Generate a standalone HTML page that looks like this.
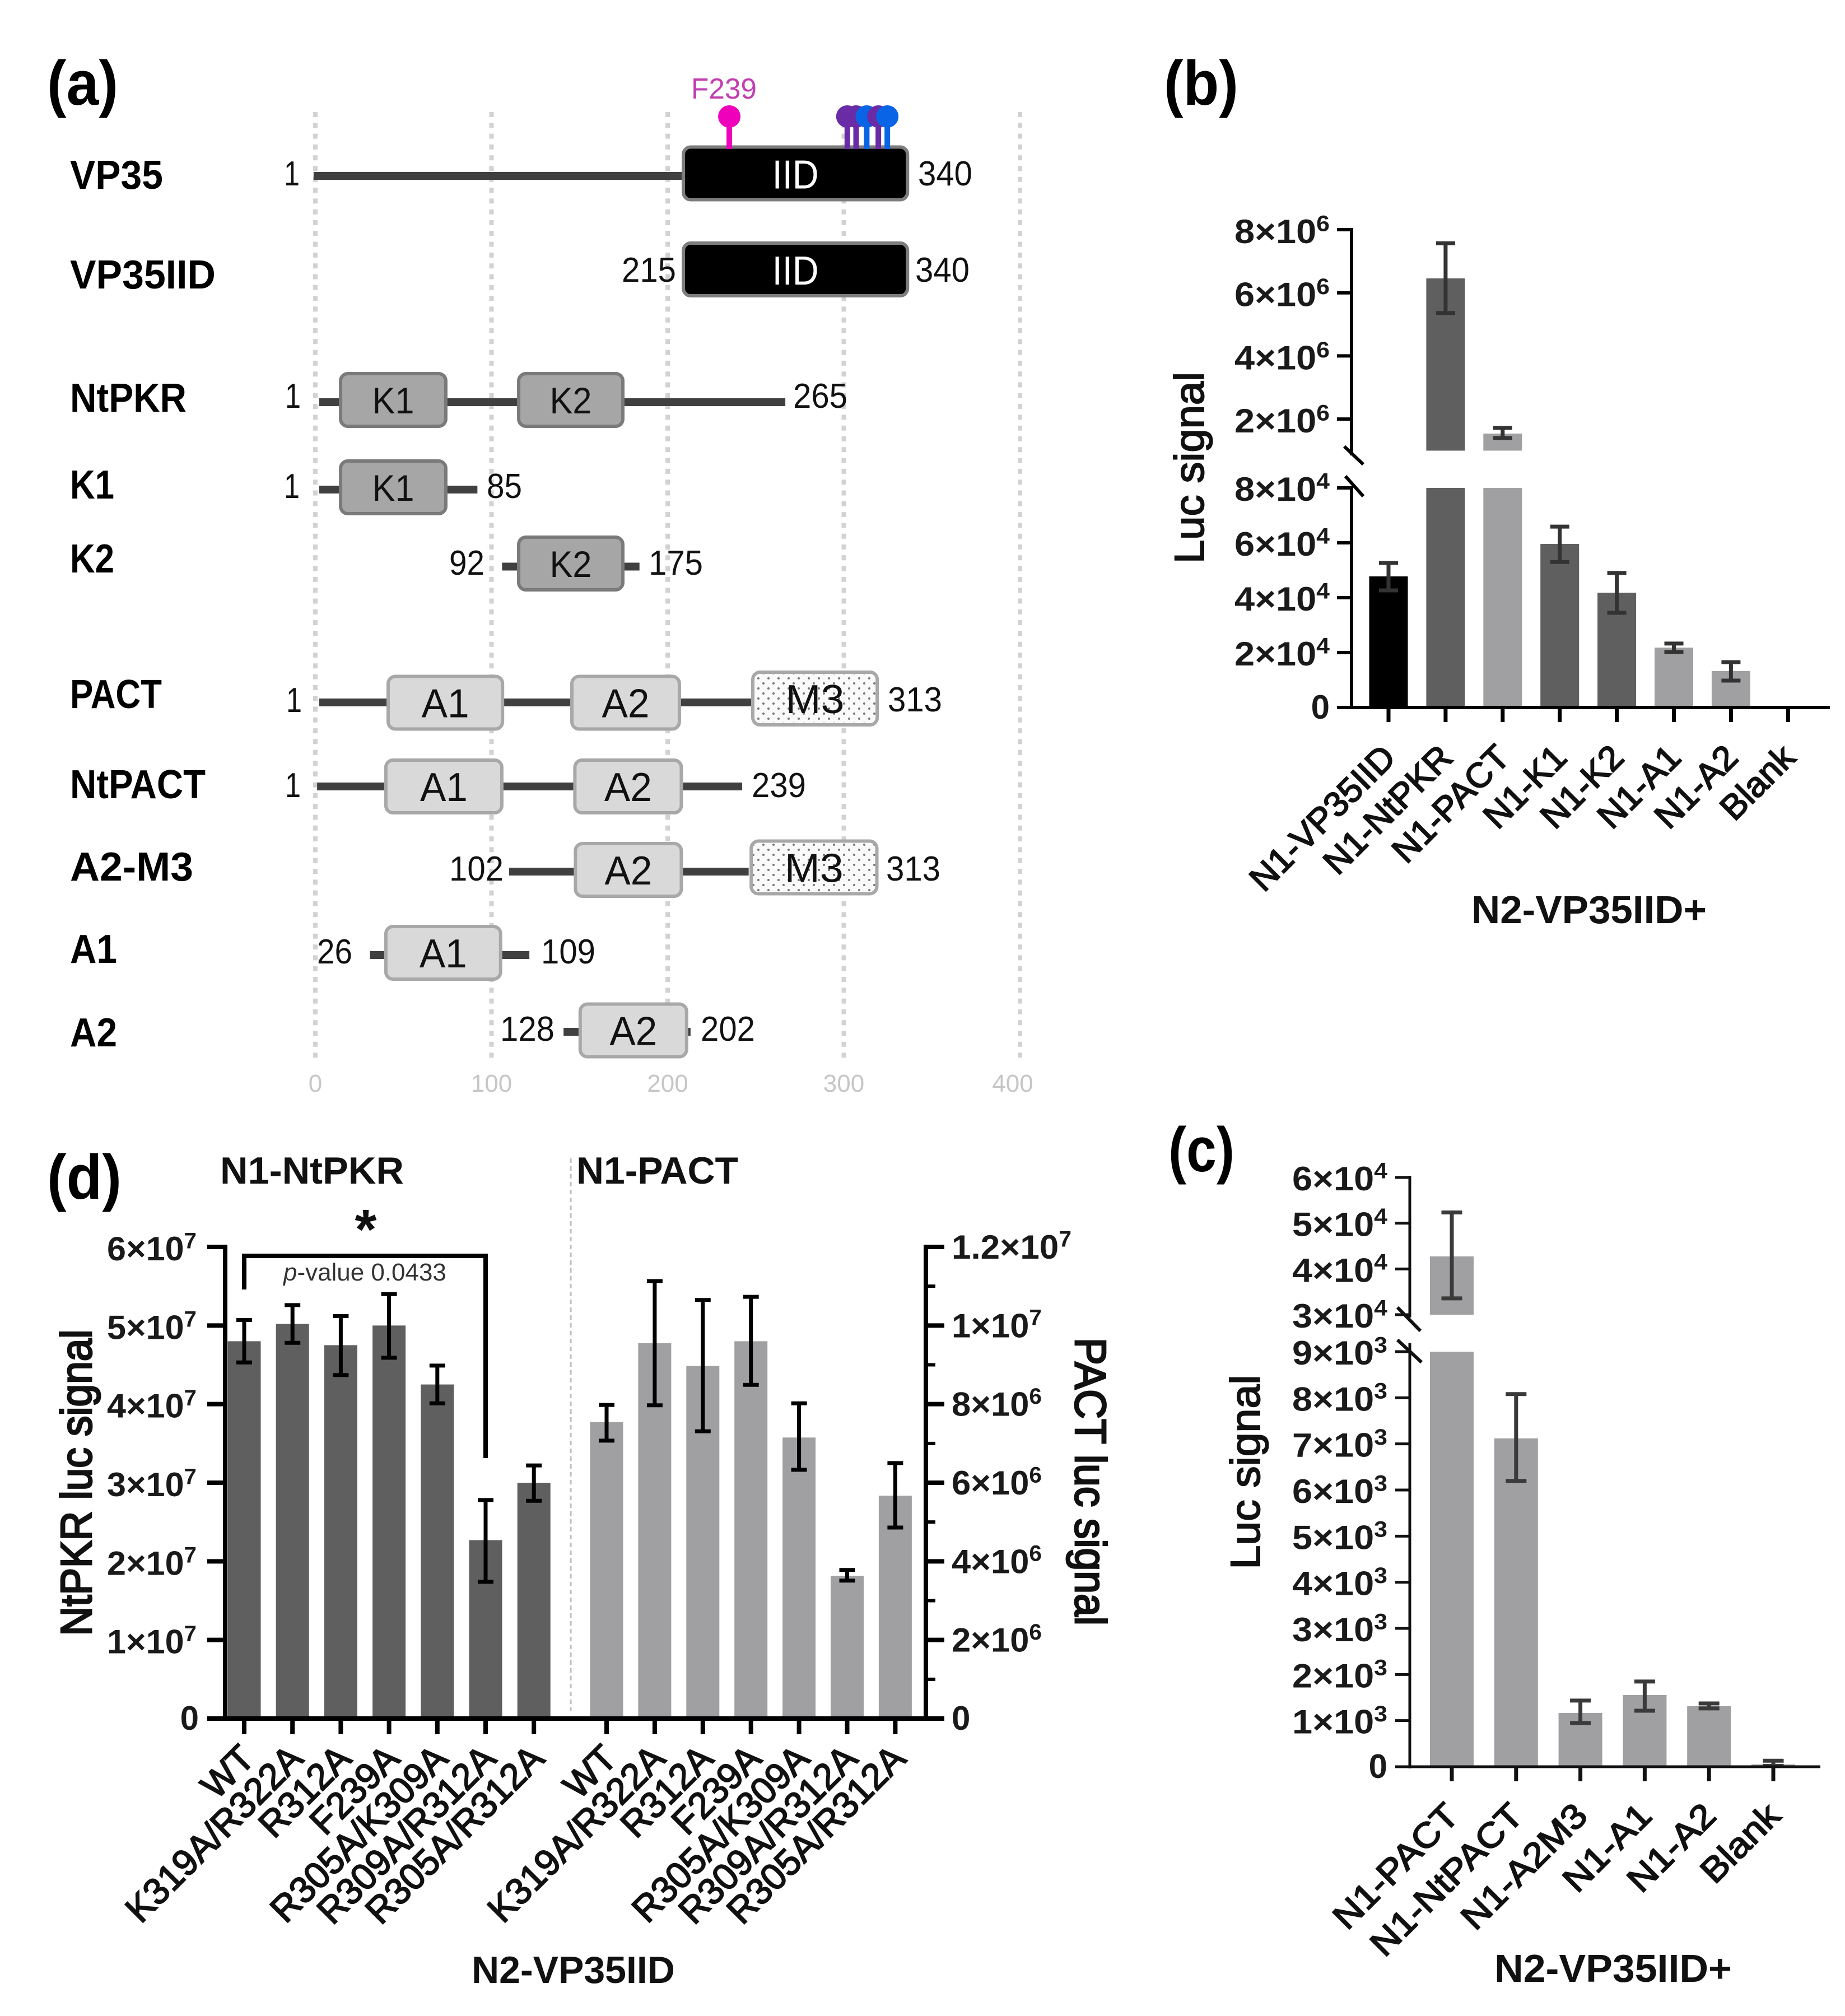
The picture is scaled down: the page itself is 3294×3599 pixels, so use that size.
<!DOCTYPE html>
<html lang="en">
<head>
<meta charset="utf-8">
<title>VP35 interaction figure</title>
<style>
html,body{margin:0;padding:0;background:#fff;}
svg{display:block;font-family:"Liberation Sans",Arial,sans-serif;}
</style>
</head>
<body>
<svg id="figure" xmlns="http://www.w3.org/2000/svg" width="3294" height="3599" viewBox="0 0 3294 3599">
<defs>
<pattern id="dots" width="18" height="18" patternUnits="userSpaceOnUse">
<rect width="18" height="18" fill="#fafafa"/>
<circle cx="4" cy="5" r="2" fill="#777"/>
<circle cx="13" cy="14" r="2" fill="#777"/>
</pattern>
</defs>
<rect width="3294" height="3599" fill="#fff"/>
</svg>
<script>
/* ---------- panel (a) data, residue units ---------- */
const residueTicks=[0,100,200,300,400];
const constructNames=['VP35','VP35IID','NtPKR','K1','K2','PACT','NtPACT','A2-M3','A1','A2'];
const constructLineStarts=[-1,null,2.2,2.2,106,2.2,1,110,31,140.9];
const constructLineEnds=[210,null,266.8,92,184,247.7,242.3,246,121.5,213];
const constructDomains=[
  [['IID',208.3,336.8]],
  [['IID',208.3,336.8]],
  [['K1',13.7,74.7],['K2',114.8,175.2]],
  [['K1',13.7,74.7]],
  [['K2',114.8,175.2]],
  [['A1',40.7,106.9],['A2',145,207.3],['M3',247.7,319.6]],
  [['A1',39.4,106.5],['A2',146.7,208.4]],
  [['A2',147,208.4],['M3',246.8,319.4]],
  [['A1',39.4,105.8]],
  [['A2',149.7,211.4]]
];
const pinResidues=[235,302,307,313,319.6,324.7];
const pinKinds=['magenta','purple','purple','blue','purple','blue'];

/* ---------- panel (b) data ---------- */
const bCategories=['N1-VP35IID','N1-NtPKR','N1-PACT','N1-K1','N1-K2','N1-A1','N1-A2','Blank'];
const bValues=[47755,6456000,1540000,59600,41800,21800,13300,0];
const bErrHigh=[52650,7570000,1720000,65900,49000,23300,16500,0];
const bErrLow=[42650,5360000,1400000,53000,34500,20200,9800,0];
const bLowerTicks=[0,20000,40000,60000,80000];
const bUpperTicks=[2000000,4000000,6000000,8000000];

/* ---------- panel (c) data ---------- */
const cCategories=['N1-PACT','N1-NtPACT','N1-A2M3','N1-A1','N1-A2','Blank'];
const cValues=[42740,7120,1167,1555,1312,50];
const cErrHigh=[52350,8080,1434,1847,1373,130];
const cErrLow=[33560,6197,948,1215,1264,20];
const cLowerTicks=[0,1000,2000,3000,4000,5000,6000,7000,8000,9000];
const cUpperTicks=[30000,40000,50000,60000];

/* ---------- panel (d) data ---------- */
const dCategories=['WT','K319A/R322A','R312A','F239A','R305A/K309A','R309A/R312A','R305A/R312A'];
const dPkrValues=[4.80e7,5.02e7,4.75e7,5.00e7,4.25e7,2.27e7,3.00e7];
const dPkrErrHigh=[5.07e7,5.26e7,5.12e7,5.40e7,4.49e7,2.78e7,3.22e7];
const dPkrErrLow=[4.53e7,4.78e7,4.37e7,4.59e7,4.01e7,1.74e7,2.77e7];
const dPactValues=[7.54e6,9.55e6,8.97e6,9.60e6,7.15e6,3.63e6,5.67e6];
const dPactErrHigh=[7.98e6,11.13e6,10.65e6,10.73e6,8.02e6,3.78e6,6.50e6];
const dPactErrLow=[7.07e6,7.97e6,7.31e6,8.49e6,6.33e6,3.51e6,4.86e6];
const dLeftTicks=[0,1e7,2e7,3e7,4e7,5e7,6e7];
const dRightTicks=[0,2e6,4e6,6e6,8e6,1e7,1.2e7];
const dRightMinorTicks=[1e6,3e6,5e6,7e6,9e6,1.1e7];

/* ---------- helpers ---------- */
const NS='http://www.w3.org/2000/svg';
const svg=document.getElementById('figure');
function make(tag,attrs,parent){
  const el=document.createElementNS(NS,tag);
  for(const k in attrs){el.setAttribute(k,attrs[k]);}
  (parent||svg).appendChild(el);
  return el;
}
function named(el,name,interactable){
  
  
  return el;
}
function slug(s){return String(s).toLowerCase().replace(/[^a-z0-9]+/g,'-');}
function linear(d0,d1,r0,r1){return v=>r0+(v-d0)*(r1-r0)/(d1-d0);}
function fit(el,x,y,o){
  let k=o.k||1;
  if(o.len){const n=el.getComputedTextLength();if(n>0){k=o.len/n;}}
  let t='translate('+x+','+y+')';
  if(o.rotate){t+=' rotate('+o.rotate+')';}
  if(k!==1){t+=' scale('+k+',1)';}
  el.setAttribute('transform',t);
}
function text(str,x,y,o,name,parent){
  const el=make('text',{'font-size':o.size,'font-weight':o.weight||'normal',fill:o.fill||'#111','text-anchor':o.anchor||'start'},parent);
  if(o.bolden){el.setAttribute('stroke',o.fill||'#111');el.setAttribute('stroke-width',o.bolden);}
  el.textContent=str;
  named(el,name);
  fit(el,x,y,o);
  return el;
}
function sciParts(v){
  const s=v.toExponential().split('e');
  return [s[0],String(parseInt(s[1],10))];
}
function sciLabel(v,left,baseline,width,size,name,parent){
  if(v===0){return null;}
  const p=sciParts(v);
  const el=make('text',{'font-size':size,'font-weight':'bold',fill:'#1a1a1a'},parent);
  const a=make('tspan',{},el);
  a.textContent=p[0]+'×10';
  const b=make('tspan',{'font-size':size*0.66,dy:-size*0.36},el);
  b.textContent=p[1];
  named(el,name);
  fit(el,left,baseline,{len:width});
  return el;
}
function zeroLabel(x,baseline,size,name,parent){
  return text('0',x,baseline,{size:size,weight:'bold',fill:'#1a1a1a',anchor:'end'},name,parent);
}
function seg(parent,x1,y1,x2,y2,stroke,w,name){
  const el=make('line',{x1:x1,y1:y1,x2:x2,y2:y2,stroke:stroke,'stroke-width':w},parent);
  named(el,name);
  return el;
}
function bar(parent,cx,w,yTop,yBottom,fill,name){
  const el=make('rect',{x:cx-w/2,y:yTop,width:w,height:Math.max(0,yBottom-yTop),fill:fill},parent);
  named(el,name);
  return el;
}
function errBar(parent,cx,yHi,yLo,cap,stroke,w,name){
  const d='M'+(cx-cap/2)+' '+yHi+'H'+(cx+cap/2)+'M'+cx+' '+yHi+'V'+yLo+'M'+(cx-cap/2)+' '+yLo+'H'+(cx+cap/2);
  const el=make('path',{d:d,fill:'none',stroke:stroke,'stroke-width':w},parent);
  named(el,name);
  return el;
}
function group(name){
  const g=make('g',{});
  named(g,name);
  return g;
}

/* ---------- panel letters ---------- */
function panelLetters(){
  const g=group('panel-labels');
  text('(a)',84,187,{size:112,weight:'bold',fill:'#000',len:127},'panel-label-a',g);
  text('(b)',2078,187,{size:112,weight:'bold',fill:'#000',len:133},'panel-label-b',g);
  text('(c)',2086,2091,{size:112,weight:'bold',fill:'#000',len:118},'panel-label-c',g);
  text('(d)',84,2140,{size:112,weight:'bold',fill:'#000',len:133},'panel-label-d',g);
}

/* ---------- panel (a) ---------- */
function drawPanelA(){
  const g=group('panel-a-domain-map');
  const x=linear(0,100,563,877.5);
  residueTicks.forEach(t=>{
    const el=make('line',{x1:x(t),x2:x(t),y1:200,y2:1895,stroke:'#d2d2d2','stroke-width':8,'stroke-dasharray':'9 10.3'},g);
    named(el,'gridline-'+t);
    const lx=t===400?x(t)-13:x(t);
    text(String(t),lx,1949,{size:44,fill:'#c6c6c6',anchor:'middle'},'residue-tick-'+t,g);
  });
  const lineYs=[314,null,718,874,1011.5,1254,1404,1556,1705,1842];
  const boxYs=[309.5,481,714,870,1006,1254.5,1404,1553,1701,1839.5];
  const m3Ys=[0,0,0,0,0,1247,0,1548.5,0,0];
  const fills={IID:['#000','#7d7d7d'],K1:['#a6a6a6','#7a7a7a'],K2:['#a6a6a6','#7a7a7a'],A1:['#d9d9d9','#a8a8a8'],A2:['#d9d9d9','#a8a8a8'],M3:['url(#dots)','#a8a8a8']};
  const sizes={IID:[72,83,27],K1:[66,75,24],K2:[66,75,24],A1:[72,85,26],A2:[72,85,26],M3:[72,105,26]};
  const nameBase=[337,515,735,890,1022,1264,1425,1572,1719,1868];
  const nameLen=[166,260,208,79,79,164,242,220,84,84];
  constructNames.forEach((n,i)=>{
    const key=slug(n);
    text(n,125,nameBase[i],{size:72,weight:'bold',fill:'#000',len:nameLen[i]},'construct-name-'+key,g);
    if(constructLineStarts[i]!==null){
      seg(g,x(constructLineStarts[i]),lineYs[i],x(constructLineEnds[i]),lineYs[i],'#404040',14,'backbone-'+key);
    }
    constructDomains[i].forEach(dom=>{
      const cy=dom[0]==='M3'?m3Ys[i]:boxYs[i];
      const f=fills[dom[0]];
      const r=make('rect',{x:x(dom[1])+2,y:cy-47,width:x(dom[2])-x(dom[1])-4,height:94,rx:13,ry:13,fill:f[0],stroke:f[1],'stroke-width':6},g);
      named(r,'domain-'+key+'-'+slug(dom[0]));
      const s=sizes[dom[0]];
      text(dom[0],(x(dom[1])+x(dom[2]))/2,cy+s[2],{size:s[0],fill:dom[0]==='IID'?'#fff':'#111',anchor:'middle',len:s[1]},'domain-label-'+key+'-'+slug(dom[0]),g);
    });
  });
  const numbers=[
    ['1',507,331,'vp35-start'],['340',1639,331,'vp35-end'],['215',1110,503,'vp35iid-start'],['340',1634,503,'vp35iid-end'],
    ['1',509,728,'ntpkr-start'],['265',1416,728,'ntpkr-end'],['1',507,889,'k1-start'],['85',869,889,'k1-end'],
    ['92',802,1026,'k2-start'],['175',1158,1026,'k2-end'],['1',511,1271,'pact-start'],['313',1585,1270,'pact-end'],
    ['1',509,1423,'ntpact-start'],['239',1342,1423,'ntpact-end'],['102',802,1572,'a2-m3-start'],['313',1582,1572,'a2-m3-end'],
    ['26',566,1720,'a1-start'],['109',966,1720,'a1-end'],['128',893,1858,'a2-start'],['202',1251,1858,'a2-end']
  ];
  numbers.forEach(n=>{
    const w=n[0].length===1?28:(n[0].length===2?63:97);
    text(n[0],n[1],n[2],{size:62,fill:'#111',len:w},'residue-number-'+n[3],g);
  });
  const pinColors={magenta:'#ef00bb',purple:'#6a2ba6',blue:'#0a64e6'};
  pinResidues.forEach((p,i)=>{
    const c=pinColors[pinKinds[i]];
    seg(g,x(p),220,x(p),266,c,10,'mutation-pin-stem-'+p);
    const k=make('circle',{cx:x(p),cy:208,r:20,fill:c},g);
    named(k,'mutation-pin-head-'+p);
  });
  text('F239',1234,176,{size:52,fill:'#c23fb0',len:117},'mutation-label-f239',g);
}

/* ---------- panel (b) ---------- */
function drawPanelB(){
  const g=group('panel-b-chart');
  const yLow=linear(0,80000,1263,871);
  const yHigh=linear(1000000,8000000,804.5,410);
  const yAny=v=>v>80000?yHigh(v):yLow(v);
  const xBand=i=>2479+i*101.9;
  const axis='#000';
  bCategories.forEach((c,i)=>{
    const key=slug(c);
    const fill=i===0?'#000':((i===2||i===5||i===6)?'#a0a0a3':'#5f5f5f');
    const cx=xBand(i);
    if(bValues[i]>80000){
      bar(g,cx,69,yLow(80000),yLow(0),fill,'bar-lower-'+key);
      bar(g,cx,69,yHigh(bValues[i]),yHigh(1000000),fill,'bar-upper-'+key);
    }else if(bValues[i]>0){
      bar(g,cx,69,yLow(bValues[i]),yLow(0),fill,'bar-'+key);
    }
    if(bValues[i]>0){
      errBar(g,cx,yAny(bErrHigh[i]),yAny(bErrLow[i]),34,'#333',7,'error-bar-'+key);
    }
    seg(g,cx,1263,cx,1289,axis,7,'x-tick-'+key);
    text(c,cx+16,1356,{size:62,fill:'#111',anchor:'end',rotate:-45,k:1.02,bolden:2},'x-label-'+key,g);
  });
  seg(g,2413,407,2413,813,axis,6,'y-axis-upper');
  seg(g,2413,868,2413,1266,axis,6,'y-axis-lower');
  seg(g,2387,1263,3267,1263,axis,6,'x-axis');
  seg(g,2400,797,2434,829,axis,6,'axis-break-upper');
  seg(g,2402,850,2434,886,axis,6,'axis-break-lower');
  bUpperTicks.forEach(t=>{
    seg(g,2387,yHigh(t),2413,yHigh(t),axis,6,'y-tick-'+t);
    sciLabel(t,2204,yHigh(t)+24,170,60,'y-tick-label-'+t,g);
  });
  bLowerTicks.forEach(t=>{
    if(t===0){zeroLabel(2374,yLow(t)+20,60,'y-tick-label-0',g);return;}
    seg(g,2387,yLow(t),2413,yLow(t),axis,6,'y-tick-'+t);
    sciLabel(t,2204,yLow(t)+23,170,60,'y-tick-label-'+t,g);
  });
  text('Luc signal',2149,835,{size:74,fill:'#111',anchor:'middle',rotate:-90,len:342,bolden:2},'y-axis-title',g);
  text('N2-VP35IID+',2627,1648,{size:70,weight:'bold',fill:'#111',len:420},'x-axis-title',g);
}

/* ---------- panel (c) ---------- */
function drawPanelC(){
  const g=group('panel-c-chart');
  const yLow=linear(0,9000,3154,2413);
  const yHigh=linear(30000,60000,2347,2102);
  const yAny=v=>v>9000?yHigh(v):yLow(v);
  const xBand=i=>2592+i*114.8;
  const axis='#111';
  cCategories.forEach((c,i)=>{
    const key=slug(c);
    const cx=xBand(i);
    const fill='#a0a0a3';
    if(cValues[i]>9000){
      bar(g,cx,78,yLow(9000),yLow(0),fill,'bar-lower-'+key);
      bar(g,cx,78,yHigh(cValues[i]),yHigh(30000),fill,'bar-upper-'+key);
    }else{
      bar(g,cx,78,yLow(cValues[i]),yLow(0),fill,'bar-'+key);
    }
    errBar(g,cx,yAny(cErrHigh[i]),yAny(cErrLow[i]),37,'#3a3a3a',7,'error-bar-'+key);
    seg(g,cx,3154,cx,3180,axis,7,'x-tick-'+key);
    text(c,cx+16,3245,{size:62,fill:'#111',anchor:'end',rotate:-45,k:1.1,bolden:2},'x-label-'+key,g);
  });
  seg(g,2517,2099,2517,2352,axis,5,'y-axis-upper');
  seg(g,2517,2398,2517,3157,axis,5,'y-axis-lower');
  seg(g,2491,3154,3250,3154,axis,5,'x-axis');
  seg(g,2495,2334,2536,2376,axis,6,'axis-break-upper');
  seg(g,2495,2392,2538,2432,axis,6,'axis-break-lower');
  cUpperTicks.forEach(t=>{
    seg(g,2491,yHigh(t),2517,yHigh(t),axis,5,'y-tick-'+t);
    sciLabel(t,2307,yHigh(t)+23,170,60,'y-tick-label-'+t,g);
  });
  cLowerTicks.forEach(t=>{
    if(t===0){zeroLabel(2477,yLow(t)+20,60,'y-tick-label-0',g);return;}
    seg(g,2491,yLow(t),2517,yLow(t),axis,5,'y-tick-'+t);
    sciLabel(t,2307,yLow(t)+23,170,60,'y-tick-label-'+t,g);
  });
  text('Luc signal',2249,2628,{size:74,fill:'#111',anchor:'middle',rotate:-90,len:347,bolden:2},'y-axis-title',g);
  text('N2-VP35IID+',2668,3538,{size:70,weight:'bold',fill:'#111',len:424},'x-axis-title',g);
}

/* ---------- panel (d) ---------- */
function drawPanelD(){
  const g=group('panel-d-chart');
  const yLeft=linear(0,6e7,3068,2226);
  const yRight=linear(0,1.2e7,3068,2226);
  const xPkr=i=>436+i*86.2;
  const xPact=i=>1083+i*85.9;
  const axis='#000';
  dCategories.forEach((c,i)=>{
    const key=slug(c);
    bar(g,xPkr(i),59,yLeft(dPkrValues[i]),yLeft(0),'#5f5f5f','bar-ntpkr-'+key);
    errBar(g,xPkr(i),yLeft(dPkrErrHigh[i]),yLeft(dPkrErrLow[i]),28,'#000',7,'error-bar-ntpkr-'+key);
    bar(g,xPact(i),59,yRight(dPactValues[i]),yRight(0),'#a0a0a3','bar-pact-'+key);
    errBar(g,xPact(i),yRight(dPactErrHigh[i]),yRight(dPactErrLow[i]),28,'#000',7,'error-bar-pact-'+key);
    seg(g,xPkr(i),3068,xPkr(i),3096,axis,8,'x-tick-ntpkr-'+key);
    seg(g,xPact(i),3068,xPact(i),3096,axis,8,'x-tick-pact-'+key);
    text(c,xPkr(i)+22,3143,{size:66,fill:'#111',anchor:'end',rotate:-45,k:0.99,bolden:2},'x-label-ntpkr-'+key,g);
    text(c,xPact(i)+22,3143,{size:66,fill:'#111',anchor:'end',rotate:-45,k:0.99,bolden:2},'x-label-pact-'+key,g);
  });
  seg(g,402,2222,402,3072,axis,8,'left-y-axis');
  seg(g,1653,2222,1653,3072,axis,8,'right-y-axis');
  seg(g,370,3068,1677,3068,axis,8,'x-axis');
  dLeftTicks.forEach(t=>{
    seg(g,370,yLeft(t),402,yLeft(t),axis,8,'left-y-tick-'+t);
    if(t===0){zeroLabel(355,yLeft(t)+20,60,'left-y-tick-label-0',g);return;}
    sciLabel(t,191,yLeft(t)+24,160,60,'left-y-tick-label-'+t,g);
  });
  dRightTicks.forEach(t=>{
    seg(g,1653,yRight(t),1686,yRight(t),axis,8,'right-y-tick-'+t);
    if(t===0){
      text('0',1699,yRight(t)+20,{size:60,weight:'bold',fill:'#1a1a1a'},'right-y-tick-label-0',g);
      return;
    }
    sciLabel(t,1699,yRight(t)+21,t>=1.2e7?214:161,60,'right-y-tick-label-'+t,g);
  });
  dRightMinorTicks.forEach(t=>{
    seg(g,1653,yRight(t),1670,yRight(t),axis,6,'right-y-minor-tick-'+t);
  });
  const divider=make('line',{x1:1019,x2:1019,y1:2068,y2:3054,stroke:'#bdbdbd','stroke-width':3,'stroke-dasharray':'8 6'},g);
  named(divider,'group-divider');
  const bracket=make('path',{d:'M'+xPkr(0)+' 2302V2242H'+xPkr(5)+'V2603',fill:'none',stroke:'#000','stroke-width':8},g);
  named(bracket,'significance-bracket');
  text('*',653,2229,{size:100,weight:'bold',fill:'#111',anchor:'middle'},'significance-asterisk',g);
  const pv=make('text',{'font-size':44,fill:'#333'},g);
  const pi=make('tspan',{'font-style':'italic'},pv);
  pi.textContent='p';
  const pr=make('tspan',{},pv);
  pr.textContent='-value 0.0433';
  named(pv,'p-value-label');
  fit(pv,506,2286,{len:291});
  text('N1-NtPKR',393,2113,{size:68,weight:'bold',fill:'#111',len:328},'group-title-ntpkr',g);
  text('N1-PACT',1029,2113,{size:68,weight:'bold',fill:'#111',len:289},'group-title-pact',g);
  text('NtPKR luc signal',163,2647,{size:78,fill:'#111',anchor:'middle',rotate:-90,len:547,bolden:3},'left-y-axis-title',g);
  text('PACT luc signal',1920,2645,{size:78,fill:'#111',anchor:'middle',rotate:90,len:514,bolden:3},'right-y-axis-title',g);
  text('N2-VP35IID',842,3540,{size:68,weight:'bold',fill:'#111',len:363},'x-axis-title',g);
}

panelLetters();
drawPanelA();
drawPanelB();
drawPanelC();
drawPanelD();
</script>
</body>
</html>
